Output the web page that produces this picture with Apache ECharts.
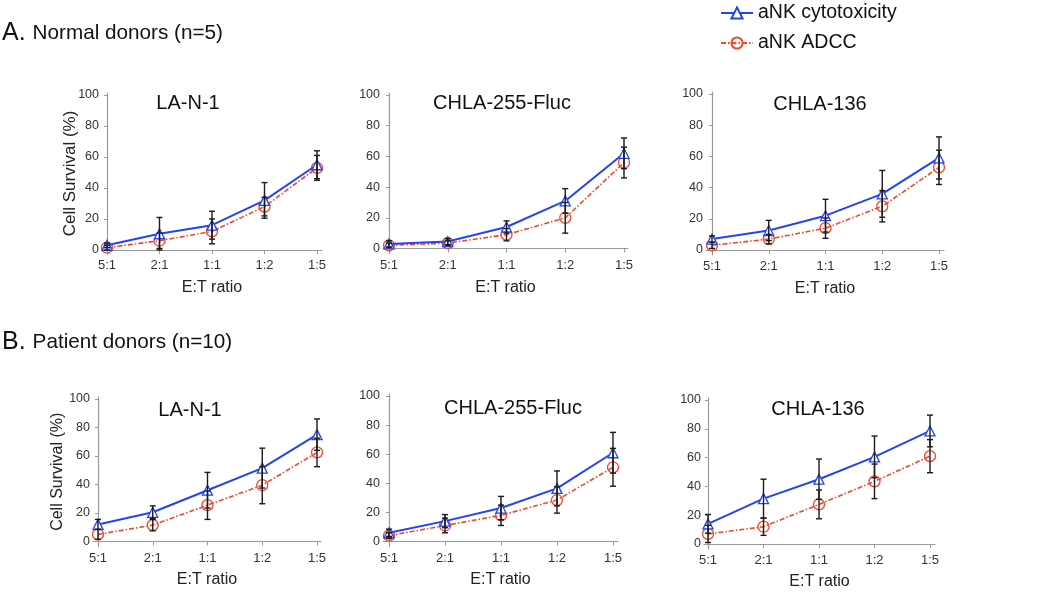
<!DOCTYPE html>
<html>
<head>
<meta charset="utf-8">
<script src="https://cdn.jsdelivr.net/npm/echarts@6/dist/echarts.min.js"></script>
<style>
html,body{margin:0;padding:0;background:#fff;}
#chart{width:1050px;height:595px;}
</style>
</head>
<body>
<div id="chart"></div>
<script>
// ---------- DATA ----------
const categories = ['5:1', '2:1', '1:1', '1:2', '1:5'];
const yTickValues = [0, 20, 40, 60, 80, 100];
const seriesNames = ['aNK cytotoxicity', 'aNK ADCC'];
const panelTitles = ['LA-N-1', 'CHLA-255-Fluc', 'CHLA-136', 'LA-N-1', 'CHLA-255-Fluc', 'CHLA-136'];
const sectionTitles = ['Normal donors (n=5)', 'Patient donors (n=10)'];
const sectionLetters = ['A.', 'B.'];
const yAxisName = 'Cell Survival (%)';
const xAxisName = 'E:T ratio';

const cytoA1 = [3, 10.5, 16, 32, 55];
const adccA1 = [1.5, 6, 12, 28, 53];
const cytoErrA1 = [1.5, 10.5, 9, 11.5, 9];
const adccErrA1 = [1.5, 5, 8, 6, 8];

const cytoA2 = [3, 4.5, 14, 31, 62];
const adccA2 = [2, 3.5, 9, 20, 56];
const cytoErrA2 = [2, 2, 4, 8, 10];
const adccErrA2 = [1.5, 1.5, 4, 10, 10];

const cytoA3 = [7, 12.5, 22, 36, 59];
const adccA3 = [3, 7, 14, 28, 53];
const cytoErrA3 = [2, 6.5, 10.5, 15, 13.5];
const adccErrA3 = [2, 3, 6.5, 10, 11];

const cytoB1 = [12, 20.5, 36, 51.5, 75];
const adccB1 = [5, 11.5, 25.5, 39.5, 62.5];
const cytoErrB1 = [3.5, 4.5, 12.5, 14, 11];
const adccErrB1 = [3.5, 4, 10, 13, 10];

const cytoB2 = [6, 14, 23, 36.5, 61];
const adccB2 = [4, 11, 18, 28.5, 51];
const cytoErrB2 = [2.5, 4.5, 8, 12, 14];
const adccErrB2 = [2, 5, 7, 9, 13];

const cytoB3 = [14, 31.5, 45, 60.5, 78.5];
const adccB3 = [7, 12, 27.5, 43.5, 61];
const cytoErrB3 = [6.5, 13.5, 14, 14.5, 11];
const adccErrB3 = [6, 6, 10, 12, 11.5];

// ---------- LAYOUT (pixels) ----------
// L: y-axis x, R: x-axis end, Y100/Y0: pixel rows of 100 and 0, XB: x-axis row, P0/P4: first/last category x
const layout = [
  {L: 102,   R: 322, Y100: 95,    Y0: 250,   XB: 254,   P0: 107,   P4: 317},
  {L: 383,   R: 628, Y100: 95,    Y0: 248.5, XB: 253.5, P0: 389,   P4: 624},
  {L: 706,   R: 944, Y100: 94,    Y0: 250,   XB: 255,   P0: 712,   P4: 939},
  {L: 93,    R: 321, Y100: 399,   Y0: 541.5, XB: 546.5, P0: 98,    P4: 317},
  {L: 383,   R: 618, Y100: 396,   Y0: 541.5, XB: 546.5, P0: 389,   P4: 613},
  {L: 704,   R: 935, Y100: 400,   Y0: 544,   XB: 549,   P0: 708,   P4: 930}
];

const panels = [
  {cyto: cytoA1, adcc: adccA1, cErr: cytoErrA1, aErr: adccErrA1},
  {cyto: cytoA2, adcc: adccA2, cErr: cytoErrA2, aErr: adccErrA2},
  {cyto: cytoA3, adcc: adccA3, cErr: cytoErrA3, aErr: adccErrA3},
  {cyto: cytoB1, adcc: adccB1, cErr: cytoErrB1, aErr: adccErrB1},
  {cyto: cytoB2, adcc: adccB2, cErr: cytoErrB2, aErr: adccErrB2},
  {cyto: cytoB3, adcc: adccB3, cErr: cytoErrB3, aErr: adccErrB3}
];

const BLUE = '#2443f2';
const RED = '#f0482a';
const AXIS = '#9a9a9a';
const LABEL = '#333333';
const FONT = 'Liberation Sans, Arial, sans-serif';

const grids = [], xAxes = [], yAxes = [], series = [], graphics = [];

panels.forEach((p, k) => {
  const g = layout[k];
  const unit = (g.Y0 - g.Y100) / 100;
  const step = (g.P4 - g.P0) / 4;
  const topPx = g.Y100 - 2;
  grids.push({left: g.L, top: topPx, width: g.R - g.L, height: g.XB - topPx, containLabel: false});
  const showName = (k === 0 || k === 3);
  xAxes.push({
    type: 'value', gridIndex: k,
    min: -(g.P0 - g.L) / step, max: 4 + (g.R - g.P4) / step,
    splitLine: {show: false},
    axisLine: {lineStyle: {color: AXIS, width: 1.2}},
    axisTick: {show: true, length: 4, lineStyle: {color: AXIS}, customValues: [0, 1, 2, 3, 4]},
    axisLabel: {customValues: [0, 1, 2, 3, 4], formatter: v => categories[Math.round(v)],
      color: LABEL, fontSize: 13, fontFamily: FONT, margin: 5},
    name: xAxisName, nameLocation: 'middle', nameGap: k < 3 ? 26 : 25, nameMoveOverlap: false,
    nameTextStyle: {fontSize: 16, color: '#222', fontFamily: FONT}
  });
  yAxes.push({
    type: 'value', gridIndex: k,
    min: -(g.XB - g.Y0) / unit, max: 100 + 2 / unit,
    splitLine: {show: false},
    axisLine: {show: true, lineStyle: {color: AXIS, width: 1.2}},
    axisTick: {show: true, length: 3, lineStyle: {color: AXIS}, customValues: yTickValues},
    axisLabel: {customValues: yTickValues, color: LABEL, fontSize: 12.5, fontFamily: FONT, margin: 3},
    name: showName ? yAxisName : '', nameLocation: 'middle', nameGap: k === 0 ? 23 : 27,
    nameMoveOverlap: false,
    nameTextStyle: {fontSize: k === 0 ? 17 : 16, color: '#222', fontFamily: FONT}
  });

  const toPts = arr => arr.map((v, i) => [i, v]);
  series.push({
    name: seriesNames[0], type: 'line', xAxisIndex: k, yAxisIndex: k,
    data: toPts(p.cyto), symbol: 'triangle', symbolSize: 10,
    itemStyle: {color: '#fff', borderColor: BLUE, borderWidth: 1.3},
    lineStyle: {color: BLUE, width: 2}, z: 3, animation: false
  });
  series.push({
    name: seriesNames[1], type: 'line', xAxisIndex: k, yAxisIndex: k,
    data: toPts(p.adcc), symbol: 'circle', symbolSize: 11,
    itemStyle: {color: 'rgba(255,255,255,0)', borderColor: RED, borderWidth: 1.3},
    lineStyle: {color: RED, width: 1.6, type: [5, 2, 1.5, 2]}, z: 2, animation: false
  });
  const errData = [];
  p.cyto.forEach((v, i) => errData.push([i, v - p.cErr[i], v + p.cErr[i]]));
  p.adcc.forEach((v, i) => errData.push([i, v - p.aErr[i], v + p.aErr[i]]));
  series.push({
    type: 'custom', xAxisIndex: k, yAxisIndex: k, data: errData, z: 4, animation: false,
    silent: true,
    renderItem: (params, api) => {
      const lo = api.coord([api.value(0), api.value(1)]);
      const hi = api.coord([api.value(0), api.value(2)]);
      const w = 3;
      const st = {stroke: '#1a1a1a', lineWidth: 1.4};
      return {type: 'group', children: [
        {type: 'line', shape: {x1: lo[0], y1: lo[1], x2: hi[0], y2: hi[1]}, style: st},
        {type: 'line', shape: {x1: lo[0] - w, y1: lo[1], x2: lo[0] + w, y2: lo[1]}, style: st},
        {type: 'line', shape: {x1: hi[0] - w, y1: hi[1], x2: hi[0] + w, y2: hi[1]}, style: st}
      ]};
    }
  });
});

// panel titles
const titlePos = [[188, 103], [502, 103], [820, 104], [190, 410], [513, 408], [818, 409]];
panelTitles.forEach((t, k) => {
  graphics.push({type: 'text', x: titlePos[k][0], y: titlePos[k][1],
    style: {text: t, fontSize: 20, fontFamily: FONT, fill: '#111', align: 'center', verticalAlign: 'middle'}});
});
// section headings
const headPos = [[2, 33], [2, 342]];
sectionTitles.forEach((t, k) => {
  graphics.push({type: 'text', x: headPos[k][0], y: headPos[k][1],
    style: {text: '{a|' + sectionLetters[k] + '}{b|' + t + '}', verticalAlign: 'middle', fill: '#111',
      rich: {a: {fontSize: 25, fontFamily: FONT, fill: '#111'},
             b: {fontSize: 20.7, fontFamily: FONT, fill: '#111', padding: [0, 0, 0, 7]}}}});
});

const option = {
  backgroundColor: '#fff',
  animation: false,
  legend: {
    data: seriesNames, orient: 'vertical', left: 715, top: -2,
    itemWidth: 32, itemHeight: 14, itemGap: 10,
    textStyle: {fontSize: 19.5, color: '#111', fontFamily: FONT, padding: [0, 0, 0, 0]},
    selectedMode: false
  },
  grid: grids, xAxis: xAxes, yAxis: yAxes, series: series, graphic: graphics
};

const chart = echarts.init(document.getElementById('chart'), null, {renderer: 'canvas'});
chart.setOption(option);
</script>
</body>
</html>
